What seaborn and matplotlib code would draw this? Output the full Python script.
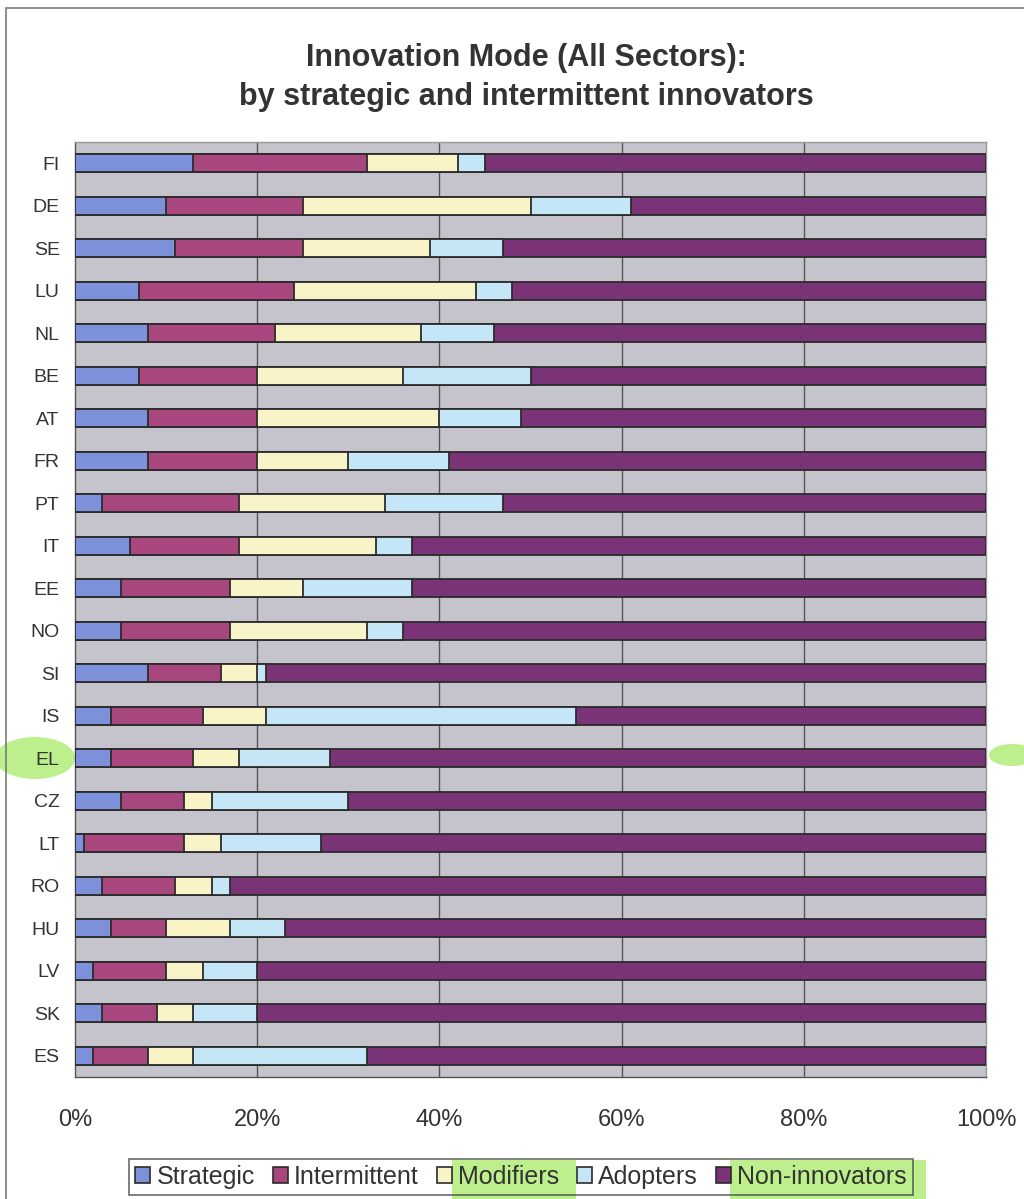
import matplotlib
matplotlib.use("Agg")
import matplotlib.pyplot as plt
from matplotlib.patches import Patch, Rectangle, Ellipse
from matplotlib.ticker import FixedLocator, FuncFormatter
import numpy as np
import pandas as pd
import seaborn as sns

# ---- data (percent of enterprises) ----
countries = ["FI", "DE", "SE", "LU", "NL", "BE", "AT", "FR", "PT", "IT", "EE",
             "NO", "SI", "IS", "EL", "CZ", "LT", "RO", "HU", "LV", "SK", "ES"]
strategic = [13, 10, 11, 7, 8, 7, 8, 8, 3, 6, 5, 5, 8, 4, 4, 5, 1, 3, 4, 2, 3, 2]
intermittent = [19, 15, 14, 17, 14, 13, 12, 12, 15, 12, 12, 12, 8, 10, 9, 7, 11, 8, 6, 8, 6, 6]
modifiers = [10, 25, 14, 20, 16, 16, 20, 10, 16, 15, 8, 15, 4, 7, 5, 3, 4, 4, 7, 4, 4, 5]
adopters = [3, 11, 8, 4, 8, 14, 9, 11, 13, 4, 12, 4, 1, 34, 10, 15, 11, 2, 6, 6, 7, 19]
non_innovators = [55, 39, 53, 52, 54, 50, 51, 59, 53, 63, 63, 64, 79, 45, 72, 70, 73, 83, 77, 80, 80, 68]

series_names = ["Strategic", "Intermittent", "Modifiers", "Adopters", "Non-innovators"]
series_colors = ["#7d90da", "#a8467e", "#f8f4c8", "#c5e6f7", "#7a3377"]

df = pd.DataFrame({
    "country": countries,
    "Strategic": strategic,
    "Intermittent": intermittent,
    "Modifiers": modifiers,
    "Adopters": adopters,
    "Non-innovators": non_innovators,
})
# cumulative right edges of each stacked segment
cum = df[series_names].cumsum(axis=1)
cum["country"] = df["country"]

sns.set_style("white")
plt.rcParams["font.family"] = ["Liberation Sans", "DejaVu Sans"]
text_color = "#333333"
highlight = "#bdf08c"

fig = plt.figure(figsize=(10.24, 11.99), dpi=100)
ax = fig.add_axes([75 / 1024, 1 - 1077 / 1199, (986 - 75) / 1024, (1077 - 142) / 1199])
ax.set_facecolor("#c5c3cb")

# draw the longest cumulative bar first, shorter ones on top -> stacked look
for name, color in reversed(list(zip(series_names, series_colors))):
    sns.barplot(data=cum, x=name, y="country", orient="h", color=color,
                saturation=1, width=0.42, edgecolor="#2b2b2b", linewidth=1.3,
                errorbar=None, ax=ax, zorder=3)

ax.set_xlim(0, 100)
ax.set_ylim(len(countries) - 0.5, -0.5)
ax.set_xlabel("")
ax.set_ylabel("")

# vertical gridlines
for gx in [20, 40, 60, 80]:
    ax.axvline(gx, color="#555555", linewidth=1.0, zorder=1)

# x axis ticks / labels
ax.xaxis.set_major_locator(FixedLocator([0, 20, 40, 60, 80, 100]))
ax.xaxis.set_major_formatter(FuncFormatter(lambda v, p: f"{v:.0f}%"))
ax.tick_params(axis="x", which="major", direction="out", length=8, width=1,
               color="#555555", labelsize=17, labelcolor=text_color, pad=15)

# y axis: labels at bar centres, tick marks between categories
ax.set_yticks(np.arange(len(countries)))
ax.set_yticklabels(countries)
ax.tick_params(axis="y", which="major", length=0, labelsize=14,
               labelcolor=text_color, pad=11)
ax.set_yticks(np.arange(-0.5, len(countries)), minor=True)
ax.tick_params(axis="y", which="minor", direction="out", length=6, width=1,
               color="#555555")

for side in ["left", "bottom"]:
    ax.spines[side].set_color("#555555")
    ax.spines[side].set_linewidth(1.0)
for side in ["top", "right"]:
    ax.spines[side].set_color("#9a9a9a")
    ax.spines[side].set_linewidth(1.0)
    ax.spines[side].set_visible(True)

# titles
fig.text(526 / 1024, 1 - 58 / 1199, "Innovation Mode (All Sectors):",
         ha="center", va="center", fontsize=22, fontweight="bold", color=text_color)
fig.text(526 / 1024, 1 - 97 / 1199, "by strategic and intermittent innovators",
         ha="center", va="center", fontsize=22, fontweight="bold", color=text_color)

# chart-area border
fig.patches.append(Rectangle((6 / 1024, -0.1), 1.2, 1 - 8 / 1199 + 0.1,
                             transform=fig.transFigure, fill=False,
                             edgecolor="#7a7a7a", linewidth=1.2))

# highlighter marks (behind text)
for (x0, x1, y0, y1) in [(452, 576, 1160, 1199), (730, 926, 1160, 1199)]:
    fig.patches.append(Rectangle((x0 / 1024, 1 - y1 / 1199), (x1 - x0) / 1024,
                                 (y1 - y0) / 1199, transform=fig.transFigure,
                                 facecolor=highlight, edgecolor="none",
                                 zorder=-1))
fig.patches.append(Ellipse((35 / 1024, 1 - 758 / 1199), 80 / 1024, 42 / 1199,
                           transform=fig.transFigure, facecolor=highlight,
                           edgecolor="none", zorder=-1))
fig.patches.append(Ellipse((1012 / 1024, 1 - 755 / 1199), 46 / 1024, 22 / 1199,
                           transform=fig.transFigure, facecolor=highlight,
                           edgecolor="none", zorder=-1))

# legend
handles = [Patch(facecolor=c, edgecolor="#2b2b2b", linewidth=1.2)
           for c in series_colors]
leg = fig.legend(handles, series_names, loc="center",
                 bbox_to_anchor=(521 / 1024, 1 - 1177 / 1199), ncol=5,
                 fontsize=18, frameon=True, fancybox=False, borderpad=0.25,
                 handlelength=0.6, handleheight=0.6, handletextpad=0.25,
                 columnspacing=0.72, borderaxespad=0)
leg.get_frame().set_edgecolor("#444444")
leg.get_frame().set_facecolor("none")
leg.get_frame().set_linewidth(1.2)
for t in leg.get_texts():
    t.set_color(text_color)

fig.savefig("out.png", dpi=100)
